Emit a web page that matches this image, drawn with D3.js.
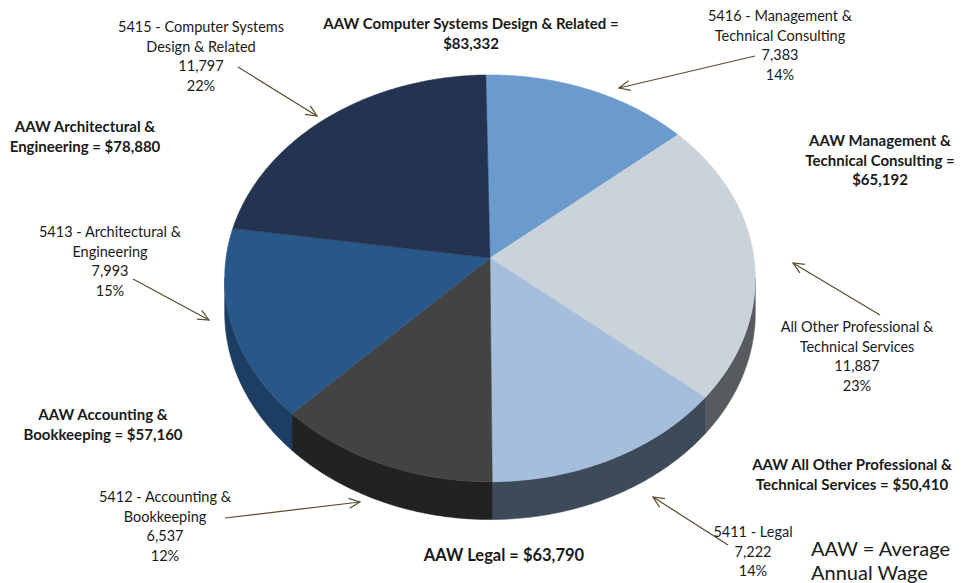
<!DOCTYPE html>
<meta charset="utf-8">
<style>
  body { margin: 0; background: #fff; }
  text { font-family: Lato, "Open Sans", sans-serif; fill: #1a1a1a; }
</style>
<body>
<script src="https://cdn.jsdelivr.net/npm/d3@7"></script>
<script>
// slices in clockwise order starting at 12 o'clock
var codes = ["5416", "", "5411", "5412", "5413", "5415"];
var categories = ["Management & Technical Consulting",
  "All Other Professional & Technical Services",
  "Legal",
  "Accounting & Bookkeeping",
  "Architectural & Engineering",
  "Computer Systems Design & Related"];
var employment = [7383, 11887, 7222, 6537, 7993, 11797];
var avgWage = [65192, 50410, 63790, 57160, 78880, 83332];

var topColors  = ["#6b9bcc", "#cbd3da", "#a4bedc", "#434343", "#28588a", "#24334f"];
var sideColors = ["#4a6f96", "#575a5e", "#3d4a59", "#222222", "#1d3d63", "#18233a"];

// label placement: [x, first baseline, words per line]
var nameLayout = [
  {x: 780, y: 21,  words: [4, 2], arrow: [[755, 56], [619, 88]]},
  {x: 857, y: 332, words: [4, 2], arrow: [[880, 315], [793, 263]]},
  {x: 753, y: 537, words: [3],    arrow: [[728, 545], [653, 497]]},
  {x: 165, y: 502, words: [4, 1], arrow: [[225, 518], [360, 502]]},
  {x: 110, y: 237, words: [4, 1], arrow: [[133, 279], [209, 320]]},
  {x: 201, y: 32,  words: [4, 3], arrow: [[238, 67], [317, 116]]}
];
var wageLayout = [
  {x: 880, y: 146, size: 15,   words: [3, 3, 1]},
  {x: 852, y: 470, size: 15,   words: [5, 4]},
  {x: 504, y: 561, size: 16.5, words: [4]},
  {x: 103, y: 420, size: 15,   words: [3, 3]},
  {x: 85,  y: 132, size: 15,   words: [3, 3]},
  {x: 471, y: 29,  size: 15,   words: [7, 1]}
];

var W = 970, H = 583;
var svg = d3.select("body").append("svg")
    .attr("width", W)
    .attr("height", H);

// perspective-ish projection of the pie disc
var cx = 490, cy = 258, rx = 264, ry = 201.4, persp = 0.1, depth = 34;
function proj(a, drop) {
  var k = 1 + persp * Math.cos(a);
  return [cx + rx * Math.sin(a) / k,
          cy - ry * Math.cos(a) / k + drop * depth / k];
}

var total = d3.sum(employment);
var rot = -1 * Math.PI / 180;
var arcs = d3.pie().sort(null).startAngle(rot).endAngle(2 * Math.PI + rot)(employment);

// visible part of the rim wall (front half)
var aR = Math.acos(-persp), aL = 2 * Math.PI - aR;

function rimPoints(a0, a1, drop) {
  var n = Math.max(2, Math.ceil((a1 - a0) / 0.01));
  return d3.range(n + 1).map(function(i) { return proj(a0 + (a1 - a0) * i / n, drop); });
}

var walls = svg.append("g");
arcs.forEach(function(d, i) {
  var a0 = Math.max(d.startAngle, aR), a1 = Math.min(d.endAngle, aL);
  if (a1 <= a0) return;
  var pts = rimPoints(a0, a1, 0).concat(rimPoints(a0, a1, 1).reverse());
  walls.append("path")
    .attr("d", d3.line()(pts) + "Z")
    .attr("fill", sideColors[i])
    .attr("stroke", sideColors[i])
    .attr("stroke-width", 0.5);
});

var tops = svg.append("g");
arcs.forEach(function(d, i) {
  var pts = [[cx, cy]].concat(rimPoints(d.startAngle, d.endAngle, 0));
  tops.append("path")
    .attr("d", d3.line()(pts) + "Z")
    .attr("fill", topColors[i])
    .attr("stroke", topColors[i])
    .attr("stroke-width", 0.5);
});

// arrowhead
svg.append("defs").append("marker")
    .attr("id", "arr")
    .attr("viewBox", "-12 -6 14 12")
    .attr("markerWidth", 14).attr("markerHeight", 12)
    .attr("refX", 0).attr("refY", 0)
    .attr("markerUnits", "userSpaceOnUse")
    .attr("orient", "auto")
  .append("path")
    .attr("d", "M-11,-5L0,0L-11,5")
    .attr("fill", "none")
    .attr("stroke", "#5b4a2c")
    .attr("stroke-width", 1.2);

function splitWords(str, counts) {
  var w = str.split(" "), out = [], p = 0;
  counts.forEach(function(c) { out.push(w.slice(p, p + c).join(" ")); p += c; });
  return out;
}

var fmt = d3.format(",");
var pct = d3.format(".0%");
var lh = 19.6;

arcs.forEach(function(d, i) {
  var L = nameLayout[i];
  var name = (codes[i] ? codes[i] + " - " : "") + categories[i];
  var lines = splitWords(name, L.words).concat([fmt(employment[i]), pct(employment[i] / total)]);
  var t = svg.append("text")
    .attr("text-anchor", "middle")
    .style("font-size", "14.5px");
  lines.forEach(function(s, j) {
    t.append("tspan").attr("x", L.x).attr("y", L.y + j * lh).text(s);
  });

  svg.append("line")
    .attr("x1", L.arrow[0][0]).attr("y1", L.arrow[0][1])
    .attr("x2", L.arrow[1][0]).attr("y2", L.arrow[1][1])
    .attr("stroke", "#5b4a2c")
    .attr("stroke-width", 1.2)
    .attr("marker-end", "url(#arr)");

  var G = wageLayout[i];
  var wl = splitWords("AAW " + categories[i] + " = $" + fmt(avgWage[i]), G.words);
  var tb = svg.append("text")
    .attr("text-anchor", "middle")
    .style("font-size", G.size + "px")
    .style("font-weight", "bold");
  wl.forEach(function(s, j) {
    tb.append("tspan").attr("x", G.x).attr("y", G.y + j * lh).text(s);
  });
});

var note = svg.append("text").style("font-size", "20px");
note.append("tspan").attr("x", 811).attr("y", 556).text("AAW = Average");
note.append("tspan").attr("x", 811).attr("y", 580).text("Annual Wage");
</script>
</body>
